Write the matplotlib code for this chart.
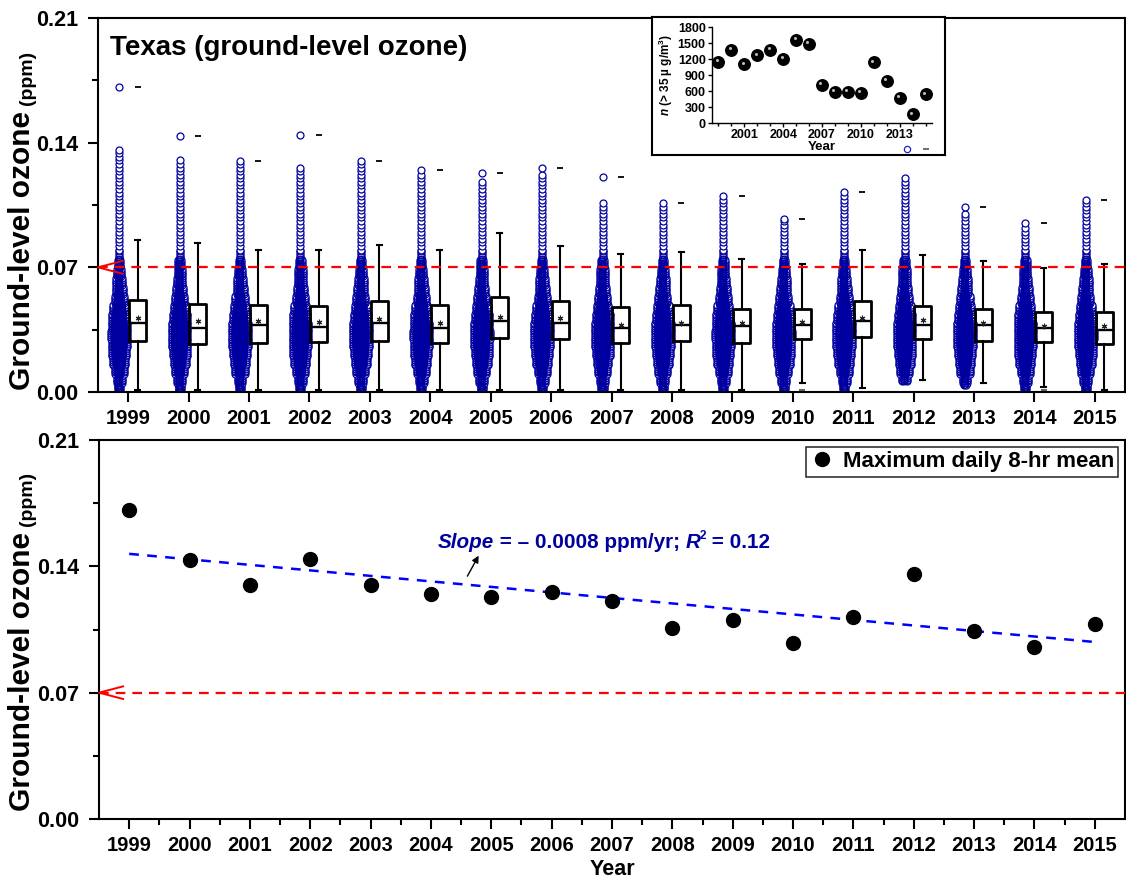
import numpy as np
import matplotlib
matplotlib.use("Agg")
import matplotlib.pyplot as plt
from matplotlib import transforms as mtrans

plt.rcParams['font.family'] = ['Liberation Sans', 'DejaVu Sans']
plt.rcParams['font.weight'] = 'bold'
plt.rcParams['lines.scale_dashes'] = False
plt.rcParams['mathtext.fontset'] = 'custom'
plt.rcParams['mathtext.it'] = 'Liberation Sans:italic:bold'
plt.rcParams['mathtext.bf'] = 'Liberation Sans:bold'
plt.rcParams['mathtext.rm'] = 'Liberation Sans:bold'

# ---------------- data ----------------
years = [1999, 2000, 2001, 2002, 2003, 2004, 2005, 2006, 2007, 2008,
         2009, 2010, 2011, 2012, 2013, 2014, 2015]
year_labels = [str(y) for y in years]

# maximum daily 8-hr mean per year (ppm) = highest point in each swarm
max_daily = [0.1713, 0.1437, 0.1299, 0.1442, 0.1299, 0.1249, 0.1232, 0.1260, 0.1210,
             0.1061, 0.1100, 0.0973, 0.1122, 0.1359, 0.1039, 0.0951, 0.1078]
# top of the continuous column of daily values in each swarm
col_top = [0.136, 0.131, 0.129, 0.127, 0.128, 0.123, 0.119, 0.123, 0.106,
           0.104, 0.108, 0.096, 0.110, 0.120, 0.101, 0.093, 0.106]
swarm_min = [0.000, 0.000, 0.000, 0.000, 0.000, 0.000, 0.000, 0.000, 0.000,
             0.000, 0.000, 0.001, 0.001, 0.006, 0.004, 0.001, 0.000]

# box statistics (ppm)
q1 = [0.0288, 0.0268, 0.0277, 0.0279, 0.0288, 0.0277, 0.0301, 0.0299, 0.0277,
      0.0286, 0.0277, 0.0297, 0.0310, 0.0299, 0.0288, 0.0279, 0.0269]
median = [0.0386, 0.0360, 0.0375, 0.0366, 0.0386, 0.0360, 0.0399, 0.0386, 0.0357,
          0.0377, 0.0368, 0.0377, 0.0399, 0.0377, 0.0379, 0.0358, 0.0349]
q3 = [0.0518, 0.0496, 0.0487, 0.0485, 0.0509, 0.0487, 0.0535, 0.0509, 0.0477,
      0.0487, 0.0466, 0.0466, 0.0509, 0.0485, 0.0466, 0.0448, 0.0448]
mean = [0.0418, 0.0396, 0.0397, 0.0394, 0.0409, 0.0388, 0.0421, 0.0416, 0.0379,
        0.0390, 0.0386, 0.0394, 0.0416, 0.0403, 0.0386, 0.0370, 0.0370]
whisk_lo = [0.001, 0.001, 0.001, 0.001, 0.001, 0.001, 0.001, 0.001, 0.001,
            0.001, 0.001, 0.005, 0.002, 0.007, 0.005, 0.003, 0.001]
whisk_hi = [0.0854, 0.0836, 0.0795, 0.0795, 0.0825, 0.0795, 0.0895, 0.0817, 0.0775,
            0.0786, 0.0745, 0.0717, 0.0795, 0.0767, 0.0736, 0.0695, 0.0717]
min_dash_years = [2010, 2014]
min_dash_vals = [0.001, 0.001]

# swarm profile: markers across at each 0.005-ppm band
prof_levels = [0.000, 0.005, 0.010, 0.015, 0.020, 0.025, 0.030, 0.035, 0.040,
               0.045, 0.050, 0.055, 0.060, 0.065, 0.070, 0.075, 0.080]
prof_across = [1.3, 1.7, 2.3, 2.7, 3.0, 3.2, 3.25, 3.2, 3.0,
               2.7, 2.3, 2.0, 1.8, 1.6, 1.35, 1.15, 1.0]

standard = 0.07  # NAAQS 8-hr ozone standard (ppm)

# inset: number of days > 35 ug/m3
inset_n = [1150, 1370, 1100, 1270, 1370, 1200, 1560, 1480, 720,
           580, 580, 570, 1140, 790, 470, 160, 540]

slope_text_val = "0.0008"
r2_text_val = "0.12"

# ---------------- figure ----------------
W, H = 1126, 882
fig = plt.figure(figsize=(W / 100, H / 100), dpi=100)


def fbox(left, top, right, bottom):
    return [left / W, 1 - bottom / H, (right - left) / W, (bottom - top) / H]


ax1 = fig.add_axes(fbox(98, 18, 1125, 392))
ax2 = fig.add_axes(fbox(99, 440, 1125, 819))

navy = '#0000a0'
red = '#ff0000'

for ax in (ax1, ax2):
    ax.set_xlim(1998.5, 2015.5)
    ax.set_ylim(0, 0.21)
    ax.set_yticks([0.0, 0.07, 0.14, 0.21])
    ax.set_yticklabels(['0.00', '0.07', '0.14', '0.21'])
    ax.set_yticks([0.035, 0.105, 0.175], minor=True)
    ax.set_xticks(years)
    ax.set_xticklabels(year_labels)
    ax.tick_params(axis='both', which='major', direction='out', length=7, width=1.5)
    ax.tick_params(axis='x', which='major', labelsize=14.5, pad=5)
    ax.tick_params(axis='y', which='major', labelsize=15.5, pad=7)
    ax.tick_params(axis='y', which='minor', direction='out', length=4, width=1.5)
    for lab in ax.get_xticklabels() + ax.get_yticklabels():
        lab.set_fontweight('bold')
    for s in ax.spines.values():
        s.set_linewidth(1.5)
ax2.set_xticks([y + 0.5 for y in years[:-1]], minor=True)
ax2.tick_params(axis='x', which='minor', direction='out', length=4, width=1.5)

# ---------------- top panel: swarms + boxes ----------------
fig.canvas.draw()
px_per_x = ax1.bbox.width / 17.0
d = 7.0 / px_per_x          # marker diameter in x units
sw_off = -9.0 / px_per_x    # swarm offset
bx_off = 9.3 / px_per_x     # box offset

core_x, core_y, edge_x, edge_y = [], [], [], []
for i, yr in enumerate(years):
    lv = np.round(np.arange(swarm_min[i], col_top[i] + 1e-9, 0.001), 3)
    for v in lv:
        k = min(np.searchsorted(prof_levels, v + 1e-9, side='right') - 1, len(prof_levels) - 1)
        across = prof_across[k]
        if v > prof_levels[-1] and (int(round(v * 1000)) % 2):
            continue
        spread = (across - 1.0) * d
        if spread < 0.15 * d:
            edge_x.append(yr + sw_off)
            edge_y.append(v)
            continue
        # outer visible circles
        edge_x.extend([yr + sw_off - spread / 2, yr + sw_off + spread / 2])
        edge_y.extend([v, v])
        # dense core filling the inside
        inner = max(spread / 2 - 0.45 * d, 0.0)
        n = max(1, int(round(2 * inner / (0.18 * d))) + 1)
        offs = np.linspace(-inner, inner, n) if n > 1 else np.array([0.0])
        for o in offs:
            core_x.append(yr + sw_off + o)
            core_y.append(v)
    edge_x.append(yr + sw_off)
    edge_y.append(max_daily[i])

ax1.scatter(edge_x, edge_y, s=25, marker='o', facecolors='white', edgecolors=navy,
            linewidths=0.9, zorder=2)
ax1.scatter(core_x, core_y, s=25, marker='o', facecolors='none', edgecolors=navy,
            linewidths=0.9, zorder=2.1)

stats = []
for i in range(len(years)):
    stats.append(dict(med=median[i], q1=q1[i], q3=q3[i], whislo=whisk_lo[i],
                      whishi=whisk_hi[i], mean=mean[i], fliers=[]))
ax1.bxp(stats, positions=[y + bx_off for y in years], widths=17.0 / px_per_x,
        showmeans=True, manage_ticks=False, patch_artist=False,
        boxprops=dict(color='black', linewidth=2.0),
        medianprops=dict(color='black', linewidth=1.7),
        whiskerprops=dict(color='black', linewidth=1.5),
        capprops=dict(color='black', linewidth=1.5),
        capwidths=5.0 / px_per_x,
        meanprops=dict(marker=(6, 2, 0), markersize=4, markeredgecolor='#222222',
                       markeredgewidth=0.8))
for art in ax1.lines:
    art.set_zorder(3)

# max dashes and min dashes
ax1.plot([y + bx_off for y in years], max_daily, ls='none', marker='_', ms=5,
         mew=1.3, color='black', zorder=3)
ax1.plot([y + bx_off for y in min_dash_years], min_dash_vals, ls='none', marker='_',
         ms=5, mew=1.3, color='#555555', zorder=3)

# standard lines with "<" arrow
for ax in (ax1, ax2):
    ax.axhline(standard, color=red, lw=1.6, dashes=(7, 5), zorder=4)
    tr = mtrans.blended_transform_factory(ax.transAxes, ax.transData)
    dy = 6.3 / (ax.bbox.height / 0.21)
    ax.plot([0.0235, 0.0, 0.0235], [standard + dy, standard, standard - dy],
            transform=tr, color=red, lw=1.4, clip_on=False, zorder=5)

ax1.text(0.012, 0.955, 'Texas (ground-level ozone)', transform=ax1.transAxes,
         fontsize=20, fontweight='bold', va='top', ha='left')

# ---------------- bottom panel ----------------
ax2.plot(years, max_daily, ls='none', marker='o', ms=10, color='black',
         label='Maximum daily 8-hr mean', zorder=4)
coef = np.polyfit(years, max_daily, 1)
fit_x = np.array([years[0], years[-1]])
ax2.plot(fit_x, np.polyval(coef, fit_x), color='#0000ff', lw=1.8, dashes=(7, 6), zorder=3)

leg = ax2.legend(loc='upper right', frameon=True, fancybox=False, edgecolor='black',
                 prop=dict(size=16, weight='bold'), borderaxespad=0.3,
                 handletextpad=0.45, borderpad=0.2, handlelength=1.0, numpoints=1)
leg.get_frame().set_linewidth(1.2)

# slope annotation built from pieces
fs_a = 14.9
t0 = ax2.text(0.330, 0.715, 'Slope', transform=ax2.transAxes, fontsize=fs_a,
              fontweight='bold', fontstyle='italic', color=navy, va='baseline', ha='left')
t1 = ax2.annotate(' = \u2013 ' + slope_text_val + ' ppm/yr; ', xy=(1, 0), xycoords=t0,
                  fontsize=fs_a, fontweight='bold', color=navy, va='bottom', ha='left')
t2 = ax2.annotate('R', xy=(1, 0), xycoords=t1, fontsize=fs_a, fontweight='bold',
                  fontstyle='italic', color=navy, va='bottom', ha='left')
t3 = ax2.annotate('2', xy=(0.95, 0.55), xycoords=t2, fontsize=8.5, fontweight='bold',
                  color=navy, va='bottom', ha='left')
t4 = ax2.annotate(' = ' + r2_text_val, xy=(1, 0), xycoords=t2, xytext=(4.0, 0),
                  textcoords='offset points', fontsize=fs_a, fontweight='bold',
                  color=navy, va='bottom', ha='left')
ax2.annotate('', xy=(0.73, -0.19), xycoords=t0, xytext=(0.53, -1.27),
             arrowprops=dict(arrowstyle='-|>', color='black', lw=1.0,
                             mutation_scale=10, shrinkA=0, shrinkB=0))

ax2.set_xlabel('Year', fontsize=15.5, fontweight='bold', labelpad=3)

# y labels with smaller "(ppm)"
for ax, ybot in ((ax1, 390), (ax2, 811)):
    lab = fig.text(22 / W, 1 - ybot / H, 'Ground-level ozone', rotation=90,
                   fontsize=21.5, fontweight='bold', ha='center', va='bottom')
    ax.annotate('(ppm)', xy=(1.0, 1.0), xycoords=lab, xytext=(0, 4),
                textcoords='offset points', rotation=90, fontsize=14,
                fontweight='bold', ha='right', va='bottom', annotation_clip=False)

# ---------------- inset ----------------
axb = fig.add_axes(fbox(652, 17, 945, 155), zorder=5)
axb.set_facecolor('white')
axb.set_xticks([])
axb.set_yticks([])
for s in axb.spines.values():
    s.set_linewidth(1.5)
axb.plot([0.87], [0.04], ls='none', marker='o', ms=4.5, mfc='none', mec='#2020d0',
         mew=0.9, transform=axb.transAxes)
axb.plot([0.935], [0.04], ls='none', marker='_', ms=4, mew=1.2, color='#555555',
         transform=axb.transAxes)

axi = fig.add_axes(fbox(712, 27, 932, 123), zorder=6)
axi.set_facecolor('none')
axi.set_xlim(1998.5, 2015.5)
axi.set_ylim(0, 1800)
for s in ('top', 'right'):
    axi.spines[s].set_visible(False)
for s in ('left', 'bottom'):
    axi.spines[s].set_linewidth(1.0)
axi.set_yticks(range(0, 1801, 300))
axi.set_xticks([2001, 2004, 2007, 2010, 2013])
axi.set_xticks(years, minor=True)
axi.tick_params(axis='both', which='major', direction='out', length=3, width=1,
                labelsize=9, pad=1.5)
axi.tick_params(axis='x', which='minor', direction='out', length=2, width=1)
for lab in axi.get_xticklabels() + axi.get_yticklabels():
    lab.set_fontweight('bold')
axi.plot(years, inset_n, ls='none', marker='o', ms=8.3, color='black', zorder=3)
hl = mtrans.offset_copy(axi.transData, fig=fig, x=-1.6, y=1.6, units='dots')
axi.plot(years, inset_n, ls='none', marker='o', ms=2.2, color='#bbbbbb', mew=0,
         transform=hl, zorder=4)
axi.set_xlabel('Year', fontsize=9.5, fontweight='bold', labelpad=0)
axi.set_ylabel('$\\mathit{n}$ (> 35 \u00b5 g/m$^\\mathbf{3}$)', fontsize=8.5,
               fontweight='bold', labelpad=2)

fig.savefig('out.png', dpi=100)
